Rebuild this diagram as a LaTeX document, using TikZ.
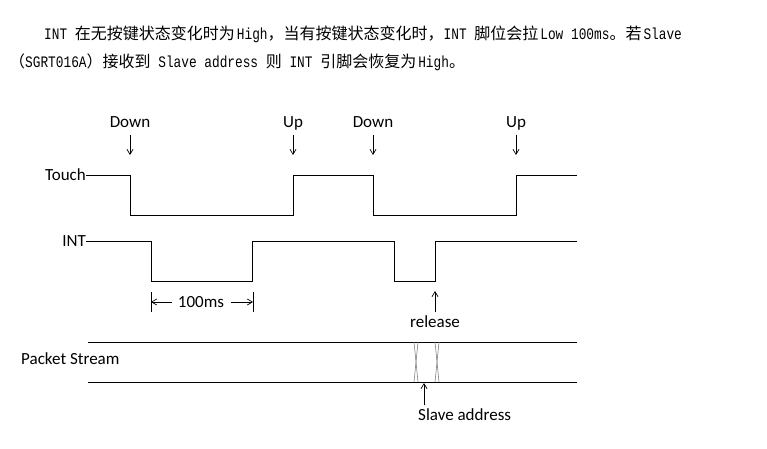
\documentclass[tikz,border=0pt]{standalone}
\usepackage{fontspec}
\setmainfont{Carlito}
\newfontfamily\cjk{Noto Sans CJK SC}
\newfontfamily\latm[FakeStretch=0.8]{Liberation Mono}
\usetikzlibrary{arrows.meta}
\newcommand\m[1]{{\latm\fontsize{16}{18}\selectfont #1}}
\newcommand\g{\kern2pt}

\begin{document}
\begin{tikzpicture}[x=1pt,y=-1pt]
\def\l{5pt}
\def\w{6pt}
\def\fs{\fontsize{17}{19}\selectfont}
\def\cs{\cjk\fontsize{16}{18}\selectfont}
\tikzset{
  wave/.style={line width=1pt,black},
  lbl/.style={font=\fs,inner sep=0pt,text height=11pt,text depth=0pt},
  arr/.style={-{Straight Barb[length=\l, width=\w]},line width=.7pt},
  cross/.style={line width=.6pt,gray}
}
\useasboundingbox (0,0) rectangle (767,448);
%% text above the chart
\node [anchor=west, inner sep=0pt, font=\cs, name=para1] at (44,34) {\m{INT }在无按键状态变化时为\g\m{High}，当有按键状态变化时，\m{INT }脚位会拉\g\m{Low 100ms}。若\g\m{Slave}};
\node [anchor=west, inner sep=0pt, font=\cs, name=para2] at (9,62) {（\m{SGRT016A}）接收到\m{ Slave address }则\m{ INT }引脚会恢复为\g\m{High}。};
%% signal names
\node [lbl, anchor=east, name=touch]  at (86,175) {Touch};
\node [lbl, anchor=east, name=int]    at (86,241) {INT};
\node [lbl, anchor=west, name=stream] at (21,359) {Packet Stream};
%% key events
\node [lbl, name=down1] at (130,122) {Down};
\node [lbl, name=up1]   at (293,122) {Up};
\node [lbl, name=down2] at (373,122) {Down};
\node [lbl, name=up2]   at (516,122) {Up};
\coordinate (e1) at (130,155);
\coordinate (e2) at (293,155);
\coordinate (e3) at (373,155);
\coordinate (e4) at (516,155);
\draw [arr, shorten <=7pt] (down1) -- (e1);
\draw [arr, shorten <=7pt] (up1) -- (e2);
\draw [arr, shorten <=7pt] (down2) -- (e3);
\draw [arr, shorten <=7pt] (up2) -- (e4);
%% waveforms
\draw [wave] (touch.east) -- (130,175) -- (130,215) -- (293,215) -- (293,175) -- (373,175) -- (373,215) -- (516,215) -- (516,175) -- (577,175);
\draw [wave] (int.east) -- (151,241) -- (151,281) -- (252,281) -- (252,241) -- (394,241) -- (394,281) -- (435,281) -- (435,241) -- (577,241);
%% 100ms
\draw [line width=.7pt] (151,292) -- (151,312);
\draw [line width=.7pt] (253,292) -- (253,312);
\node [lbl, name=ms] at (201,302) {100ms};
\coordinate (mL) at (151,302);
\coordinate (mR) at (253,302);
\draw [arr, shorten <=6pt] (ms) -- (mL);
\draw [arr, shorten <=7pt] (ms) -- (mR);
%% release
\node [lbl, name=rel] at (435,322) {release};
\coordinate (r) at (435,291);
\draw [arr, shorten <=4pt] (rel) -- (r);
%% packet stream
\draw [wave] (88,342) -- (577,342);
\draw [wave] (88,382) -- (577,382);
\draw [cross] (414,342) -- (418,382);
\draw [cross] (418,342) -- (414,382);
\draw [cross] (435,342) -- (439,382);
\draw [cross] (439,342) -- (435,382);
\node [lbl, anchor=west, name=slave] at (418,415) {Slave address};
\coordinate (sa) at (424,383);
\draw [arr, shorten <=4pt] (sa |- slave.north) -- (sa);
\end{tikzpicture}
\end{document}
